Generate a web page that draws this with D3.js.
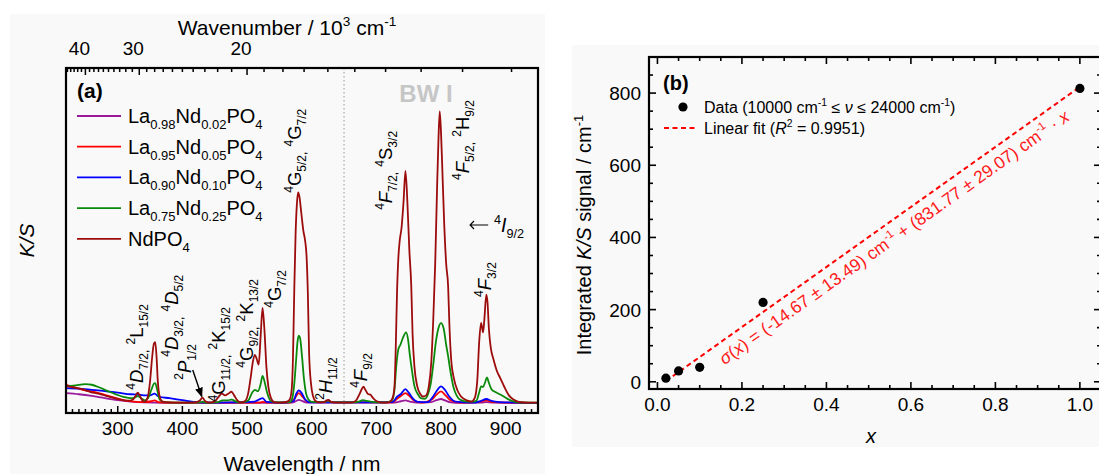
<!DOCTYPE html>
<html><head><meta charset="utf-8">
<script src="https://cdn.jsdelivr.net/npm/d3@7"></script>
<style>
html,body{margin:0;padding:0;background:#fff;}
svg{display:block;font-family:"Liberation Sans",Arial,Helvetica,sans-serif;}
text{white-space:pre;}
</style></head><body>
<svg id="fig" width="1099" height="474"></svg>
<script>
// ---------- Panel (a): K/S spectra, [wavelength nm, K/S] ----------
const seriesLabels = ["La_{0.98}Nd_{0.02}PO_{4}", "La_{0.95}Nd_{0.05}PO_{4}", "La_{0.90}Nd_{0.10}PO_{4}", "La_{0.75}Nd_{0.25}PO_{4}", "NdPO_{4}"];
const seriesColors = ["#9b1a9b", "#ff0000", "#0000ff", "#0a8a0a", "#9c0c0c"];

const ksNd002 = [[220,0.038],[240,0.034],[260,0.028],[280,0.02],[300,0.013],[320,0.008],[340,0.005],[400,0.003],[570,0.004],[576,0.01],[580,0.014],[585,0.01],[592,0.004],[725,0.004],[738,0.009],[745,0.012],[752,0.008],[762,0.004],[785,0.006],[793,0.013],[800,0.017],[806,0.012],[815,0.005],[830,0.003],[862,0.004],[870,0.006],[880,0.004],[950,0.003]];
const ksNd005 = [[220,0.068],[235,0.058],[250,0.048],[265,0.042],[280,0.032],[295,0.022],[310,0.012],[325,0.008],[340,0.006],[352,0.009],[357,0.012],[363,0.006],[380,0.004],[400,0.004],[520,0.004],[524,0.007],[530,0.004],[565,0.004],[574,0.02],[580,0.038],[586,0.025],[594,0.006],[725,0.005],[732,0.018],[738,0.028],[745,0.038],[751,0.028],[758,0.012],[770,0.004],[786,0.015],[793,0.033],[800,0.044],[807,0.03],[815,0.012],[830,0.004],[862,0.008],[870,0.012],[880,0.006],[950,0.003]];
const ksNd010 = [[220,0.056],[240,0.054],[260,0.05],[280,0.045],[300,0.04],[320,0.034],[331,0.033],[340,0.03],[350,0.03],[357,0.036],[363,0.026],[380,0.02],[400,0.013],[420,0.006],[440,0.004],[476,0.005],[512,0.008],[524,0.02],[530,0.007],[560,0.004],[572,0.01],[576,0.035],[580,0.048],[584,0.04],[590,0.015],[598,0.005],[680,0.005],[725,0.006],[732,0.025],[738,0.035],[745,0.052],[750,0.04],[756,0.02],[764,0.007],[780,0.006],[786,0.02],[793,0.045],[800,0.062],[806,0.05],[813,0.025],[822,0.008],[850,0.004],[862,0.01],[870,0.017],[878,0.01],[890,0.006],[950,0.003]];
const ksNd025 = [[220,0.062],[235,0.066],[250,0.07],[260,0.068],[272,0.058],[285,0.045],[298,0.033],[310,0.024],[320,0.02],[326,0.022],[331,0.027],[336,0.02],[342,0.012],[348,0.025],[352,0.05],[356,0.072],[358,0.074],[361,0.05],[365,0.015],[372,0.006],[400,0.004],[428,0.005],[431,0.008],[436,0.004],[455,0.006],[462,0.012],[470,0.012],[476,0.015],[483,0.008],[492,0.005],[502,0.012],[508,0.04],[512,0.05],[517,0.045],[521,0.07],[524,0.1],[527,0.08],[531,0.04],[536,0.012],[545,0.005],[566,0.006],[570,0.02],[573,0.07],[576,0.16],[578,0.22],[580,0.243],[582,0.235],[585,0.17],[588,0.09],[591,0.04],[595,0.015],[600,0.007],[620,0.006],[625,0.012],[630,0.006],[660,0.005],[673,0.008],[679,0.013],[685,0.01],[692,0.008],[700,0.005],[715,0.005],[724,0.012],[728,0.05],[731,0.14],[734,0.195],[737,0.21],[741,0.235],[746,0.255],[749,0.23],[752,0.17],[755,0.12],[759,0.062],[764,0.035],[769,0.02],[775,0.018],[780,0.035],[784,0.07],[788,0.14],[792,0.22],[796,0.27],[800,0.288],[804,0.27],[808,0.21],[811,0.17],[815,0.11],[819,0.062],[824,0.03],[830,0.014],[840,0.008],[850,0.008],[855,0.012],[859,0.04],[862,0.062],[865,0.06],[868,0.075],[871,0.094],[874,0.075],[878,0.052],[884,0.042],[890,0.035],[897,0.026],[905,0.015],[915,0.007],[930,0.004],[950,0.004]];
const ksNd100 = [[220,0.064],[232,0.058],[245,0.052],[258,0.042],[270,0.036],[282,0.028],[295,0.02],[308,0.013],[318,0.011],[324,0.016],[328,0.03],[331,0.04],[334,0.03],[338,0.012],[342,0.007],[346,0.02],[350,0.08],[353,0.16],[356,0.215],[358,0.22],[360,0.17],[362,0.08],[365,0.025],[369,0.008],[380,0.005],[400,0.004],[420,0.005],[427,0.012],[431,0.022],[435,0.01],[442,0.004],[450,0.008],[456,0.025],[461,0.036],[466,0.03],[471,0.036],[476,0.043],[480,0.03],[485,0.012],[490,0.005],[497,0.01],[502,0.04],[506,0.1],[509,0.15],[512,0.175],[515,0.16],[518,0.14],[521,0.24],[524,0.343],[527,0.26],[530,0.13],[533,0.06],[537,0.02],[542,0.006],[552,0.004],[562,0.008],[566,0.015],[569,0.05],[571,0.16],[573,0.4],[575,0.6],[577,0.71],[579,0.755],[581,0.74],[584,0.68],[587,0.62],[590,0.58],[592,0.53],[594,0.4],[596,0.18],[599,0.07],[602,0.028],[606,0.01],[612,0.005],[619,0.006],[623,0.012],[626,0.014],[630,0.007],[640,0.004],[660,0.004],[668,0.01],[673,0.03],[677,0.05],[680,0.061],[683,0.05],[687,0.035],[691,0.032],[695,0.02],[700,0.01],[710,0.004],[720,0.006],[725,0.02],[728,0.06],[730,0.2],[732,0.4],[734,0.52],[736,0.58],[739,0.63],[742,0.72],[745,0.832],[748,0.72],[751,0.55],[754,0.42],[756,0.25],[759,0.13],[763,0.065],[768,0.035],[772,0.026],[777,0.03],[781,0.06],[785,0.15],[788,0.3],[791,0.5],[794,0.78],[796,0.94],[798,1.045],[800,0.97],[802,0.84],[805,0.64],[808,0.5],[811,0.42],[813,0.28],[816,0.15],[820,0.09],[825,0.05],[831,0.026],[840,0.012],[847,0.008],[852,0.02],[856,0.08],[859,0.22],[862,0.289],[865,0.255],[867,0.3],[870,0.39],[872,0.36],[874,0.27],[877,0.2],[881,0.16],[886,0.12],[892,0.09],[898,0.06],[905,0.03],[912,0.015],[920,0.007],[935,0.004],[950,0.004]];
const spectra = [ksNd002, ksNd005, ksNd010, ksNd025, ksNd100];

const wavelengthMajor = [300, 400, 500, 600, 700, 800, 900];
const wavenumberMajor = [40, 30, 20];        // 10^3 cm^-1
const bandEdge = 650;                          // nm

// ---------- Panel (b): integrated K/S vs Nd fraction ----------
const ndFraction = [0.02, 0.05, 0.10, 0.25, 1.0];
const integratedKS = [10, 30, 40, 220, 813];
const fitIntercept = -14.67;
const fitSlope = 831.77;
const xTicksB = [0, 0.2, 0.4, 0.6, 0.8, 1.0];
const yTicksB = [0, 200, 400, 600, 800];

// ---------- helpers ----------
const svg = d3.select("#fig");

// "_{..}" subscript, "^{..}" superscript, "%{..}" italic
function rich(textSel, str, fs) {
  const re = /(_\{[^}]*\}|\^\{[^}]*\}|%\{[^}]*\})/g;
  const segs = [];
  let last = 0, m;
  while ((m = re.exec(str))) {
    if (m.index > last) segs.push({t: str.slice(last, m.index), k: "n"});
    const tag = m[0][0];
    segs.push({t: m[0].slice(2, -1), k: tag === "_" ? "sub" : tag === "^" ? "sup" : "it"});
    last = re.lastIndex;
  }
  if (last < str.length) segs.push({t: str.slice(last), k: "n"});
  let off = 0;
  segs.forEach(s => {
    const ts = textSel.append("tspan").text(s.t);
    let target = 0, size = fs;
    if (s.k === "sub") { target = 0.3 * fs; size = 0.65 * fs; }
    if (s.k === "sup") { target = -0.42 * fs; size = 0.65 * fs; }
    if (s.k === "it") ts.attr("font-style", "italic");
    ts.attr("font-size", size);
    if (target !== off) { ts.attr("dy", target - off); off = target; }
  });
  return textSel;
}

function label(g, str, x, y, fs, opts = {}) {
  const t = g.append("text")
    .attr("font-size", fs)
    .attr("fill", opts.fill || "#000")
    .attr("text-anchor", opts.anchor || "start");
  if (opts.weight) t.attr("font-weight", opts.weight);
  if (opts.rotate !== undefined) t.attr("transform", `translate(${x},${y}) rotate(${opts.rotate})`);
  else t.attr("x", x).attr("y", y);
  return rich(t, str, fs);
}

// ---------- backgrounds ----------
svg.append("rect").attr("x", 10).attr("y", 14).attr("width", 535).attr("height", 460).attr("fill", "#f9f9f9");
svg.append("rect").attr("x", 572).attr("y", 45).attr("width", 527).attr("height", 402).attr("fill", "#f9f9f9");

// ================= Panel (a) =================
const ga = svg.append("g");
const xA = d3.scaleLinear().domain([220, 950]).range([66, 538]);
const yA = d3.scaleLinear().domain([-0.033, 1.2]).range([413, 68]);

ga.append("clipPath").attr("id", "clipA").append("rect")
  .attr("x", xA(220)).attr("y", yA(1.2)).attr("width", xA(950) - xA(220)).attr("height", yA(-0.033) - yA(1.2));

// band boundary
ga.append("line")
  .attr("x1", xA(bandEdge)).attr("x2", xA(bandEdge)).attr("y1", yA(1.2)).attr("y2", yA(-0.033))
  .attr("stroke", "#b4b4b4").attr("stroke-width", 1.4).attr("stroke-dasharray", "1.5,2.5");

// spectra
const lineA = d3.line().x(d => xA(d[0])).y(d => yA(d[1])).curve(d3.curveMonotoneX);
const specG = ga.append("g").attr("clip-path", "url(#clipA)");
spectra.forEach((s, i) => {
  specG.append("path").attr("d", lineA(s)).attr("fill", "none")
    .attr("stroke", seriesColors[i]).attr("stroke-width", 1.8).attr("stroke-linejoin", "round");
});

// bottom axis (wavelength), inward ticks
const minorNm = d3.range(220, 951, 10);
ga.append("g").selectAll("line").data(minorNm).join("line")
  .attr("x1", d => xA(d)).attr("x2", d => xA(d))
  .attr("y1", yA(-0.033)).attr("y2", d => yA(-0.033) - (d % 100 === 0 ? 7 : 4))
  .attr("stroke", "#000").attr("stroke-width", 1.5);
ga.append("g").selectAll("text").data(wavelengthMajor).join("text")
  .attr("x", d => xA(d)).attr("y", 435).attr("text-anchor", "middle")
  .attr("font-size", 19).text(d => d);

// top axis (wavenumber, 10^3 cm^-1), inward ticks
const minorWn = d3.range(11, 46);
ga.append("g").selectAll("line").data(minorWn).join("line")
  .attr("x1", d => xA(1e4 / d)).attr("x2", d => xA(1e4 / d))
  .attr("y1", yA(1.2)).attr("y2", d => yA(1.2) + (d % 10 === 0 ? 7 : 4))
  .attr("stroke", "#000").attr("stroke-width", 1.5);
ga.append("g").selectAll("text").data(wavenumberMajor).join("text")
  .attr("x", d => xA(1e4 / d) - 6).attr("y", 55).attr("text-anchor", "middle")
  .attr("font-size", 19).text(d => d);

// frame
ga.append("rect").attr("x", xA(220)).attr("y", yA(1.2))
  .attr("width", xA(950) - xA(220)).attr("height", yA(-0.033) - yA(1.2))
  .attr("fill", "none").attr("stroke", "#000").attr("stroke-width", 2.2);

// axis titles
label(ga, "Wavelength / nm", (xA(220) + xA(950)) / 2, 471, 21, {anchor: "middle"});
label(ga, "Wavenumber / 10^{3} cm^{-1}", 287, 35, 21, {anchor: "middle"});
label(ga, "%{K/S}", 34, (yA(1.2) + yA(-0.033)) / 2, 21, {anchor: "middle", rotate: -90});

// panel tag and band tag
label(ga, "(a)", 77, 98, 21, {weight: "bold"});
label(ga, "BW I", 426, 102, 24, {weight: "bold", anchor: "middle", fill: "#c6c6c6"});

// legend
seriesLabels.forEach((s, i) => {
  const y = 116 + i * 30.7;
  ga.append("line").attr("x1", 77).attr("x2", 121).attr("y1", y).attr("y2", y)
    .attr("stroke", seriesColors[i]).attr("stroke-width", 1.8);
  label(ga, s, 128, y + 7, 20);
});

// transition assignments (from the 4I9/2 ground state), anchored at [nm, K/S]
const transitions = [
  ["^{4}%{D}_{7/2,} ^{2}L_{15/2}", 338.5, 0.05],
  ["^{4}%{D}_{3/2,} ^{4}%{D}_{5/2}", 392.5, 0.168],
  ["^{2}%{P}_{1/2}", 413, 0.086],
  ["^{4}G_{11/2,} ^{2}K_{15/2}", 465.5, 0.008],
  ["^{4}G_{9/2,} ^{2}K_{13/2}", 509, 0.129],
  ["^{4}G_{7/2}", 552, 0.343],
  ["^{4}G_{5/2,} ^{4}G_{7/2}", 583, 0.754],
  ["^{2}%{H}_{11/2}", 631, 0.014],
  ["^{4}%{F}_{9/2}", 685, 0.057],
  ["^{4}%{F}_{7/2,} ^{4}S_{3/2}", 724, 0.693],
  ["^{4}%{F}_{5/2,} ^{2}H_{9/2}", 843, 0.8],
  ["^{4}%{F}_{3/2}", 877, 0.382]
];
transitions.forEach(t => label(ga, t[0], xA(t[1]), yA(t[2]), 18.5, {rotate: -90}));

// arrow to the 2P1/2 band
const defs = svg.append("defs");
defs.append("marker").attr("id", "ah").attr("viewBox", "0 0 10 10")
  .attr("refX", 9).attr("refY", 5).attr("markerWidth", 7).attr("markerHeight", 7)
  .attr("orient", "auto").append("path").attr("d", "M0,1 L10,5 L0,9 Z").attr("fill", "#000");
ga.append("line").attr("x1", xA(416)).attr("y1", yA(0.121)).attr("x2", xA(430)).attr("y2", yA(0.026))
  .attr("stroke", "#000").attr("stroke-width", 1.4).attr("marker-end", "url(#ah)");

// ground state note: arrow plus term symbol
const gsY = 225;
ga.append("path")
  .attr("d", `M${xA(873)},${gsY} L${xA(845)},${gsY} M${xA(851)},${gsY - 4} L${xA(845)},${gsY} L${xA(851)},${gsY + 4}`)
  .attr("fill", "none").attr("stroke", "#000").attr("stroke-width", 1.2);
label(ga, "^{4}%{I}_{9/2}", 494, 232, 19.5);

// ================= Panel (b) =================
const gb = svg.append("g");
const xB = d3.scaleLinear().domain([-0.02, 1.05]).range([649, 1101]);
const yB = d3.scaleLinear().domain([-20, 900]).range([389, 57]);

// ticks, inward on all four sides
const xMinorB = d3.range(0, 1.0501, 0.05);
const yMinorB = d3.range(0, 901, 50);
const isMajX = d => Math.abs(d * 5 - Math.round(d * 5)) < 1e-6;
gb.append("g").selectAll("line").data(xMinorB).join("line")
  .attr("x1", d => xB(d)).attr("x2", d => xB(d))
  .attr("y1", yB(-20)).attr("y2", d => yB(-20) - (isMajX(d) ? 7 : 4))
  .attr("stroke", "#000").attr("stroke-width", 1.6);
gb.append("g").selectAll("line").data(xMinorB).join("line")
  .attr("x1", d => xB(d)).attr("x2", d => xB(d))
  .attr("y1", yB(900)).attr("y2", d => yB(900) + (isMajX(d) ? 7 : 4))
  .attr("stroke", "#000").attr("stroke-width", 1.6);
gb.append("g").selectAll("line").data(yMinorB).join("line")
  .attr("y1", d => yB(d)).attr("y2", d => yB(d))
  .attr("x1", xB(-0.02)).attr("x2", d => xB(-0.02) + (d % 200 === 0 ? 7 : 4))
  .attr("stroke", "#000").attr("stroke-width", 1.6);
gb.append("g").selectAll("line").data(yMinorB).join("line")
  .attr("y1", d => yB(d)).attr("y2", d => yB(d))
  .attr("x1", xB(1.05)).attr("x2", d => xB(1.05) - (d % 200 === 0 ? 7 : 4))
  .attr("stroke", "#000").attr("stroke-width", 1.6);

gb.append("g").selectAll("text").data(xTicksB).join("text")
  .attr("x", d => xB(d)).attr("y", 411).attr("text-anchor", "middle")
  .attr("font-size", 19).text(d => d.toFixed(1));
gb.append("g").selectAll("text").data(yTicksB).join("text")
  .attr("x", 641).attr("y", d => yB(d) + 7).attr("text-anchor", "end")
  .attr("font-size", 19).text(d => d);

gb.append("rect").attr("x", xB(-0.02)).attr("y", yB(900))
  .attr("width", xB(1.05) - xB(-0.02)).attr("height", yB(-20) - yB(900))
  .attr("fill", "none").attr("stroke", "#000").attr("stroke-width", 2.2);

// linear fit
const fit = x => fitIntercept + fitSlope * x;
gb.append("line")
  .attr("x1", xB(ndFraction[0])).attr("y1", yB(fit(ndFraction[0])))
  .attr("x2", xB(ndFraction[ndFraction.length - 1])).attr("y2", yB(fit(ndFraction[ndFraction.length - 1])))
  .attr("stroke", "#ff0000").attr("stroke-width", 2).attr("stroke-dasharray", "5,3.5");

// data points
gb.append("g").selectAll("circle").data(ndFraction).join("circle")
  .attr("cx", d => xB(d)).attr("cy", (d, i) => yB(integratedKS[i])).attr("r", 4.6).attr("fill", "#000");

// fit equation along the line
const ang = Math.atan2(yB(fit(1)) - yB(fit(0)), xB(1) - xB(0)) * 180 / Math.PI;
const eq = gb.append("text").attr("font-size", 17.5).attr("fill", "#ff1a1a")
  .attr("transform", `translate(${xB(0.13)},${yB(fit(0.13))}) rotate(${ang})`).attr("y", 21);
rich(eq, "%{σ}(%{x}) = (-14.67 ± 13.49) cm^{-1} + (831.77 ± 29.07) cm^{-1} · %{x}", 17.5);

// titles
label(gb, "%{x}", (xB(-0.02) + xB(1.05)) / 2 - 4, 443, 20, {anchor: "middle"});
label(gb, "Integrated %{K/S} signal / cm^{-1}", 591, 235, 20, {anchor: "middle", rotate: -90});
label(gb, "(b)", 663, 90, 20, {weight: "bold"});

// legend
gb.append("circle").attr("cx", 683).attr("cy", 107).attr("r", 4.6).attr("fill", "#000");
label(gb, "Data (10000 cm^{-1} ≤ %{ν} ≤ 24000 cm^{-1})", 704, 113, 16);
gb.append("line").attr("x1", 664).attr("x2", 695).attr("y1", 128).attr("y2", 128)
  .attr("stroke", "#ff0000").attr("stroke-width", 2).attr("stroke-dasharray", "5,3.5");
label(gb, "Linear fit (%{R}^{2} = 0.9951)", 704, 134, 16);
</script>
</body></html>
